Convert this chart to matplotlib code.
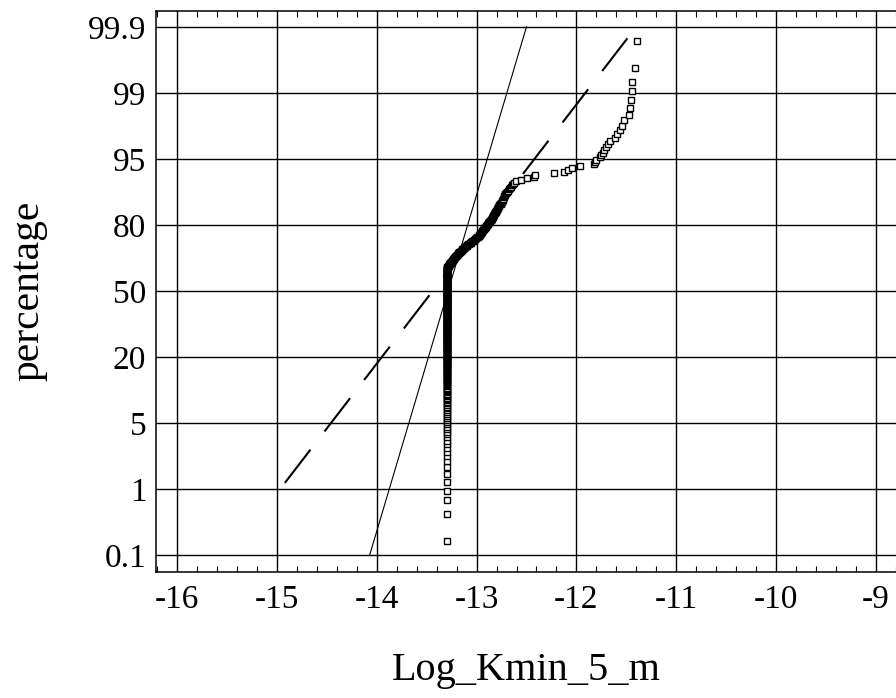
import numpy as np
import matplotlib
matplotlib.use("Agg")
import matplotlib.pyplot as plt
from matplotlib.ticker import MultipleLocator, NullLocator, FixedLocator

plt.rcParams["font.family"] = ["Liberation Serif", "DejaVu Serif"]
plt.rcParams["lines.scale_dashes"] = False

# ---- data -------------------------------------------------------------
# probability-axis ticks (percent) and their labels
pct_ticks = [0.1, 1, 5, 20, 50, 80, 95, 99, 99.9]
pct_labels = ["0.1", "1", "5", "20", "50", "80", "95", "99", "99.9"]
x_ticks = [-16, -15, -14, -13, -12, -11, -10, -9]
x_labels = ["-16", "-15", "-14", "-13", "-12", "-11", "-10", "-9"]

# sample of Log_Kmin_5_m: values tied at the lower limit ...
floor_value = -13.30
n_at_floor = 240
# ... and the remaining values, ascending
upper_values = [
    -13.29, -13.29, -13.28, -13.28,
    -13.28, -13.27, -13.27, -13.26, -13.26, -13.26, -13.25, -13.25, -13.24, -13.24,
    -13.24, -13.23, -13.23, -13.22, -13.22, -13.21, -13.21, -13.20, -13.20, -13.19,
    -13.19, -13.18, -13.18, -13.17, -13.16, -13.16, -13.15, -13.15, -13.14, -13.13,
    -13.13, -13.12, -13.11, -13.10, -13.10, -13.09, -13.08, -13.07, -13.06, -13.06,
    -13.05, -13.04, -13.03, -13.02, -13.02, -13.01, -13.00, -12.99, -12.98, -12.98,
    -12.97, -12.97, -12.96, -12.96, -12.95, -12.95, -12.94, -12.94, -12.93, -12.93,
    -12.92, -12.91, -12.91, -12.90, -12.90, -12.89, -12.89, -12.88, -12.88, -12.87,
    -12.86, -12.86, -12.85, -12.85, -12.84, -12.84, -12.84, -12.83, -12.83, -12.82,
    -12.82, -12.81, -12.81, -12.80, -12.80, -12.79, -12.79, -12.78, -12.78, -12.77,
    -12.76, -12.76, -12.75, -12.75, -12.74, -12.74, -12.73, -12.73, -12.72, -12.72,
    -12.71, -12.70, -12.69, -12.68, -12.67, -12.66, -12.65, -12.64,
    -12.63, -12.61, -12.56, -12.50, -12.42, -12.41, -12.22, -12.12, -12.08, -12.04,
    -11.96, -11.82, -11.81, -11.80, -11.76, -11.75, -11.73, -11.72, -11.70, -11.68,
    -11.66, -11.61, -11.59, -11.56, -11.54, -11.52, -11.47, -11.46, -11.45, -11.44,
    -11.44, -11.41, -11.39,
]

# reference lines (x, percent endpoints)
fit_dashed_x = [-14.92, -11.49]
fit_dashed_pct = [1.16, 99.85]
fit_thin_x = [-14.07, -12.50]
fit_thin_pct = [0.1, 99.9]

# ---- probability scale: equal spacing between labelled percentages ----
_knots = np.log(np.array(pct_ticks) / 100 / (1 - np.array(pct_ticks) / 100))
_idx = np.arange(len(_knots), dtype=float)


def _interp_ext(v, xs, ys):
    v = np.asarray(v, dtype=float)
    out = np.interp(v, xs, ys)
    s0 = (ys[1] - ys[0]) / (xs[1] - xs[0])
    s1 = (ys[-1] - ys[-2]) / (xs[-1] - xs[-2])
    out = np.where(v < xs[0], ys[0] + (v - xs[0]) * s0, out)
    out = np.where(v > xs[-1], ys[-1] + (v - xs[-1]) * s1, out)
    return out


def pct_forward(p):
    p = np.clip(np.asarray(p, dtype=float), 1e-9, 100 - 1e-9) / 100
    return _interp_ext(np.log(p / (1 - p)), _knots, _idx)


def pct_inverse(u):
    lg = _interp_ext(u, _idx, _knots)
    return 100 / (1 + np.exp(-lg))


# ---- sample and plotting positions (Blom) ----
kmin = np.sort(np.concatenate([np.full(n_at_floor, floor_value), upper_values]))
n = kmin.size
rank = np.arange(1, n + 1)
pct = (rank - 0.375) / (n + 0.25) * 100

# ---- figure ----
fig = plt.figure(figsize=(8.96, 6.98), dpi=100)
ax = fig.add_axes([156 / 896, 126.3 / 698, 741 / 896, 561 / 698])
ax.set_yscale("function", functions=(pct_forward, pct_inverse))

ax.set_xlim(-16.21, -8.79)
ax.set_ylim(0.0556, 99.943)

ax.yaxis.set_major_locator(FixedLocator(pct_ticks))
ax.set_yticklabels(pct_labels)
ax.yaxis.set_minor_locator(NullLocator())
ax.xaxis.set_major_locator(FixedLocator(x_ticks))
ax.set_xticklabels(x_labels)
ax.xaxis.set_minor_locator(MultipleLocator(0.2))

ax.grid(True, which="major", color="black", linewidth=1.0)
ax.tick_params(axis="both", which="major", length=0, labelsize=24)
ax.tick_params(axis="x", which="major", pad=9)
ax.tick_params(axis="y", which="major", pad=7)
ax.tick_params(axis="x", which="minor", direction="in", top=True, bottom=True,
               length=4, width=0.8, color="black")
for s in ax.spines.values():
    s.set_linewidth(1.1)
    s.set_color("black")

ax.plot(fit_thin_x, fit_thin_pct, color="black", linewidth=0.8, zorder=3)
ax.plot(fit_dashed_x, fit_dashed_pct, color="black", linewidth=1.5,
        dashes=(30.2, 16.6), zorder=3)
ax.plot(kmin, pct, linestyle="none", marker="s", markersize=5.0,
        markerfacecolor="white", markeredgecolor="black", markeredgewidth=1.0,
        zorder=4)

ax.set_xlabel("Log_Kmin_5_m", fontsize=29, labelpad=27)
ax.set_ylabel("percentage", fontsize=30, labelpad=29)

fig.savefig("out.png", dpi=100)
